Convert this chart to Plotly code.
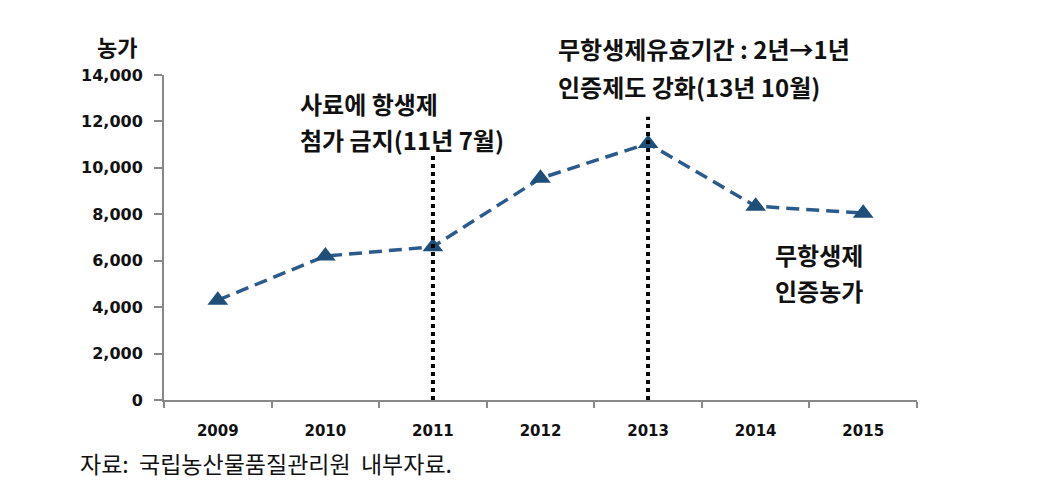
import plotly.graph_objects as go

years = ["2009", "2010", "2011", "2012", "2013", "2014", "2015"]
farms = [4300, 6200, 6600, 9550, 11050, 8350, 8050]
y_ticks = [0, 2000, 4000, 6000, 8000, 10000, 12000, 14000]
event_years = ["2011", "2013"]
event_tops = [10650, 12200]

KR = "Noto Sans CJK KR"
fig = go.Figure()
fig.add_trace(go.Scatter(
    x=list(range(len(years))), y=farms, mode="lines+markers",
    line=dict(color="#2B5A8C", width=3.5, dash="13px,7px"),
    marker=dict(symbol="triangle-up", size=18, color="#1F4E79"),
    showlegend=False,
))
for yr, top in zip(event_years, event_tops):
    i = years.index(yr)
    fig.add_shape(type="line", xref="x", yref="y", x0=i, x1=i, y0=0, y1=top,
                  layer="above", line=dict(color="black", width=4, dash="dot"))

def ann(text, x, y, size=24, anchor="left", font=KR, color="#111"):
    fig.add_annotation(text=text, xref="paper", yref="paper", x=x, y=y,
                       xanchor=anchor, yanchor="middle", showarrow=False,
                       font=dict(family=font, size=size, color=color))

def px(xp, yp):
    return (xp - 164) / 753, (400 - yp) / 325

ann("<b>농가</b>", *px(95, 46), size=22)
ann("<b>사료에 항생제</b>", *px(298, 103))
ann("<b>첨가 금지(11년 7월)</b>", *px(298, 139))
ann("<b>무항생제유효기간 : 2년→1년</b>", *px(556, 49))
ann("<b>인증제도 강화(13년 10월)</b>", *px(556, 86))
ann("<b>무항생제</b>", *px(773, 254))
ann("<b>인증농가</b>", *px(773, 290))
ann("자료:  국립농산물품질관리원  내부자료.", *px(78, 463), size=23)

fig.update_layout(
    width=1062, height=495,
    margin=dict(l=156, r=153, t=67, b=103),
    plot_bgcolor="white", paper_bgcolor="white",
    xaxis=dict(tickmode="array", tickvals=list(range(len(years))), ticktext=years,
               ticks="", showline=True, linecolor="#888", linewidth=2,
               showgrid=False, zeroline=False, range=[-0.5, 6.5],
               ticklabelstandoff=16,
               minor=dict(tickmode="array", tickvals=[i - 0.5 for i in range(len(years) + 1)],
                          ticks="outside", ticklen=6, tickcolor="#888", tickwidth=1.5,
                          showgrid=False),
               tickfont=dict(family="DejaVu Sans", size=15, color="#111", weight="bold")),
    yaxis=dict(range=[0, 14000], tickvals=y_ticks, tickformat=",d", ticks="outside",
               ticklen=8, tickcolor="#888", tickwidth=1.5, showline=True, linecolor="#888",
               linewidth=2, showgrid=False, zeroline=False, ticklabelstandoff=8,
               tickfont=dict(family="DejaVu Sans", size=16, color="#111", weight="bold")),
)
fig.write_html("out.html")
